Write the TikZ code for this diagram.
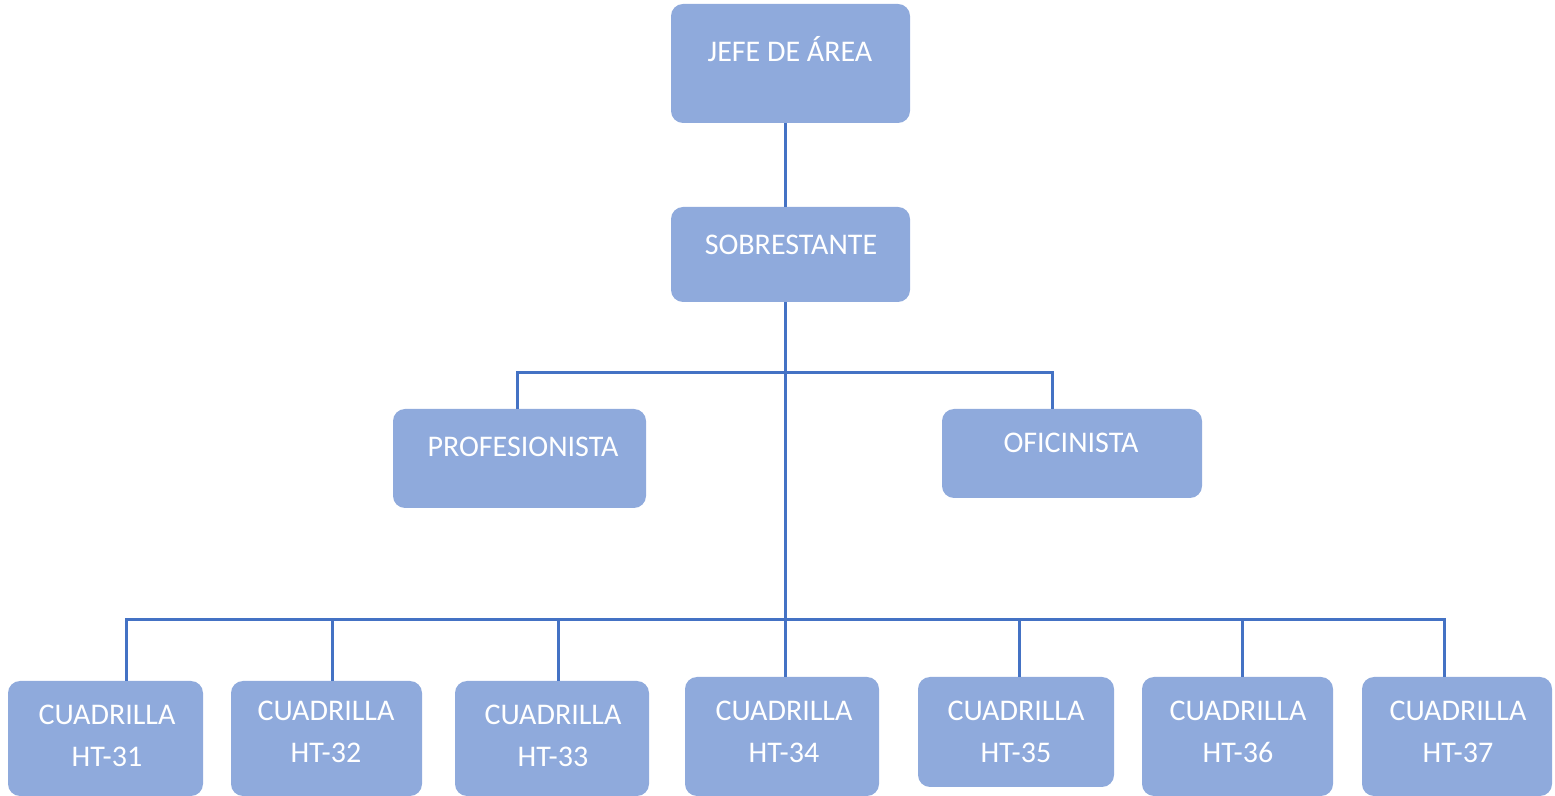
\documentclass[tikz,border=0pt]{standalone}
\usepackage{fontspec}
\setmainfont{Carlito}
\usepackage{tikz}
\usetikzlibrary{fit}
\usepackage{xcolor}
\definecolor{BoxFill}{RGB}{143,170,220}
\definecolor{LinkCol}{RGB}{68,114,196}
\tikzstyle{OrgBox}=[rounded corners=6pt,fill=BoxFill,inner sep=0pt]
\tikzstyle{OrgText}=[text=white,inner sep=0pt,align=center,
font=\fontsize{15}{21}\selectfont]
\tikzstyle{OrgLink}=[LinkCol,line width=1.5pt]
\begin{document}
\begin{tikzpicture}[x=0.5pt,y=-0.5pt]
        \useasboundingbox (0,0) rectangle (1555,796);
        % boxes
        \node[OrgBox,fit={(671,4) (910,123)}](jefe){};
        \node[OrgBox,fit={(671,207) (910,302)}](sobre){};
        \node[OrgBox,fit={(393,409) (646,508)}](prof){};
        \node[OrgBox,fit={(942,409) (1202,498)}](ofi){};
        \node[OrgBox,fit={(8,681) (203,796)}](c31){};
        \node[OrgBox,fit={(231,681) (422,796)}](c32){};
        \node[OrgBox,fit={(455,681) (649,796)}](c33){};
        \node[OrgBox,fit={(685,677) (879,796)}](c34){};
        \node[OrgBox,fit={(918,677) (1114,787)}](c35){};
        \node[OrgBox,fit={(1142,677) (1333,796)}](c36){};
        \node[OrgBox,fit={(1362,677) (1552,796)}](c37){};
        % texts
        \node[OrgText,anchor=base](tjefe)at(790,62){JEFE DE ÁREA};
        \node[OrgText,anchor=base](tsobre)at(791,255){SOBRESTANTE};
        \node[OrgText,anchor=base](tprof)at(523,457){PROFESIONISTA};
        \node[OrgText,anchor=base](tofi)at(1071,453){OFICINISTA};
        \node[OrgText](t31)at(107,736){CUADRILLA\\HT-31};
        \node[OrgText](t32)at(326,732){CUADRILLA\\HT-32};
        \node[OrgText](t33)at(553,736){CUADRILLA\\HT-33};
        \node[OrgText](t34)at(784,732){CUADRILLA\\HT-34};
        \node[OrgText](t35)at(1016,732){CUADRILLA\\HT-35};
        \node[OrgText](t36)at(1238,732){CUADRILLA\\HT-36};
        \node[OrgText](t37)at(1458,732){CUADRILLA\\HT-37};
        % connectors
        \coordinate(jA)at(785,373);
        \coordinate(jB)at(785,620);
        \coordinate(dprof)at(517,373);
        \coordinate(dofi)at(1052,373);
        \draw[OrgLink](jefe.south -| jA)--(sobre.north -| jA);
        \draw[OrgLink](sobre.south -| jA)--(jB);
        \draw[OrgLink](dprof |- prof.north)--(dprof)--(dofi)--(dofi |- ofi.north);
        \foreach \dx/\bx in {126/c31,332/c32,558/c33,785/c34,1019/c35,1242/c36,1444/c37}{
            \coordinate(d\bx)at(\dx,620);
            \draw[OrgLink](d\bx)--(d\bx |- \bx.north);
        }
        \draw[OrgLink](dc31 |- c31.north)--(dc31)--(dc37)--(dc37 |- c37.north);
    \end{tikzpicture}
\end{document}
